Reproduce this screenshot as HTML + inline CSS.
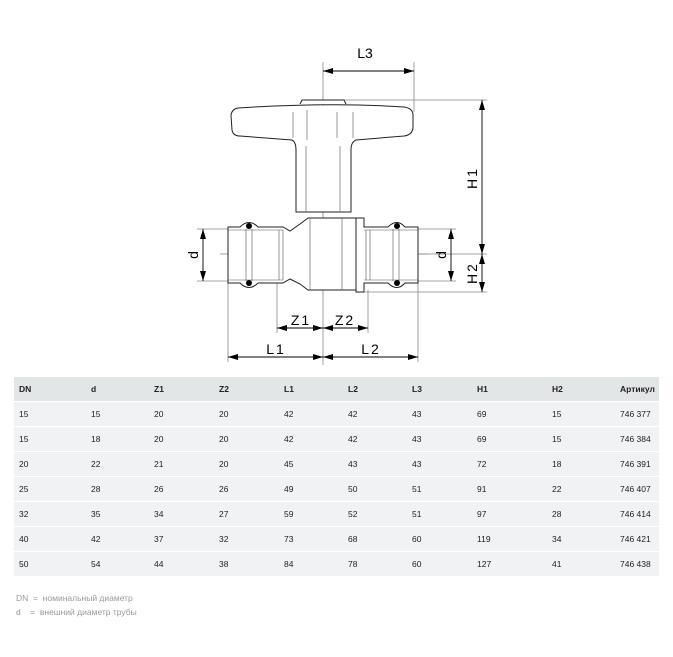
<!DOCTYPE html>
<html><head><meta charset="utf-8"><style>
body{margin:0;background:#fff;width:673px;height:657px;overflow:hidden;font-family:"Liberation Sans",Arial,sans-serif}
svg{position:absolute;left:0;top:0}
table{position:absolute;left:14px;top:377px;width:645px;border-collapse:collapse;font-size:8.5px;color:#222}
td{height:24px;padding:0 0 0 5px;border-bottom:1px solid #fff;background:#f0f2f3;vertical-align:middle}
tr.h td{background:#e3e6e7;font-weight:bold;height:24px}
.foot{position:absolute;left:16px;font-size:8.5px;color:#999}
</style></head><body>
<svg width="673" height="370" viewBox="0 0 673 370">
<defs><marker id="a" viewBox="0 0 10 6" refX="10" refY="3" markerWidth="10" markerHeight="6" orient="auto-start-reverse" markerUnits="userSpaceOnUse"><path d="M0,0L10,3L0,6z" fill="#000"/></marker></defs>
<g stroke="#888" stroke-width="0.8" fill="none">
<line x1="323" y1="62" x2="323" y2="365"/>
<line x1="414" y1="62" x2="414" y2="112"/>
<line x1="335" y1="100" x2="487" y2="100"/>
<line x1="418" y1="254" x2="487" y2="254"/>
<line x1="365" y1="292" x2="487" y2="292"/>
<line x1="197" y1="229" x2="240" y2="229"/>
<line x1="197" y1="281" x2="240" y2="281"/>
<line x1="405" y1="229" x2="456" y2="229"/>
<line x1="405" y1="281" x2="456" y2="281"/>
<line x1="228" y1="283" x2="228" y2="362"/>
<line x1="418" y1="283" x2="418" y2="362"/>
<line x1="277" y1="280" x2="277" y2="333"/>
<line x1="368" y1="290" x2="368" y2="333"/>
<line x1="220" y1="254" x2="430" y2="254" stroke-dasharray="10,3,2,3"/>
</g>
<g stroke="#000" stroke-width="0.9">
<line x1="323" y1="71" x2="414" y2="71" marker-start="url(#a)" marker-end="url(#a)"/>
<line x1="482" y1="100" x2="482" y2="254" marker-start="url(#a)" marker-end="url(#a)"/>
<line x1="482" y1="254" x2="482" y2="292" marker-start="url(#a)" marker-end="url(#a)"/>
<line x1="203" y1="229" x2="203" y2="281" marker-start="url(#a)" marker-end="url(#a)"/>
<line x1="451" y1="229" x2="451" y2="281" marker-start="url(#a)" marker-end="url(#a)"/>
<line x1="277" y1="328" x2="323" y2="328" marker-start="url(#a)" marker-end="url(#a)"/>
<line x1="323" y1="328" x2="368" y2="328" marker-start="url(#a)" marker-end="url(#a)"/>
<line x1="228" y1="357" x2="323" y2="357" marker-start="url(#a)" marker-end="url(#a)"/>
<line x1="323" y1="357" x2="418" y2="357" marker-start="url(#a)" marker-end="url(#a)"/>
</g>
<g stroke="#222" stroke-width="1" fill="#fff">
<path d="M300,104 L302,100 L344,100 L346,104"/>
<path d="M238,108 Q232,109 231,115 L232,130 Q233,136 240,136 L292,140 Q296,142 296,150 L296,212 L351,212 L351,150 Q351,142 356,140 L404,136 Q412,135 413,128 L413,114 Q412,108 404,107 Q330,102 238,108 Z"/>
<path d="M228,227 L240,227 Q249,218 258,227 L283,227 L290,231 L300,224 L308,218 L356,218 L356,290 L308,290 L300,284 L290,279 L283,283 L258,283 Q249,292 240,283 L228,283 Z"/>
<path d="M356,218 L364,218 L364,227 L388,227 Q397,218 405,227 L418,227 L418,283 L405,283 Q397,292 388,283 L364,283 L364,292 L356,292 Z"/>
</g>
<g stroke="#555" stroke-width="0.6" fill="none">
<line x1="228" y1="230" x2="283" y2="230"/><line x1="228" y1="280" x2="283" y2="280"/>
<line x1="364" y1="230" x2="418" y2="230"/><line x1="364" y1="280" x2="418" y2="280"/>
<line x1="246" y1="229" x2="246" y2="281"/><line x1="252" y1="229" x2="252" y2="281"/>
<line x1="393" y1="229" x2="393" y2="281"/><line x1="399" y1="229" x2="399" y2="281"/>
<line x1="279" y1="230" x2="279" y2="280"/><line x1="283" y1="230" x2="283" y2="280"/>
<line x1="366" y1="230" x2="366" y2="280"/><line x1="370" y1="230" x2="370" y2="280"/>
<line x1="310" y1="218" x2="310" y2="290"/><line x1="342" y1="218" x2="342" y2="290"/>
<line x1="306" y1="146" x2="306" y2="212"/><line x1="340" y1="146" x2="340" y2="212"/>
<line x1="293" y1="112" x2="293" y2="138"/><line x1="337" y1="112" x2="337" y2="138"/>
<line x1="307" y1="110" x2="307" y2="140"/><line x1="353" y1="112" x2="353" y2="138"/>
</g>
<g fill="#000"><circle cx="249" cy="226" r="3"/><circle cx="249" cy="283" r="3"/><circle cx="397" cy="226" r="3"/><circle cx="397" cy="283" r="3"/></g>
<g font-family="Liberation Sans,Arial,sans-serif" font-size="14" fill="#000" text-anchor="middle">
<text x="365" y="58">L3</text>
<text x="301" y="325" letter-spacing="2">Z1</text>
<text x="345" y="325" letter-spacing="2">Z2</text>
<text x="276" y="354" letter-spacing="2">L1</text>
<text x="371" y="354" letter-spacing="2">L2</text>
<text transform="translate(198,255) rotate(-90)">d</text>
<text transform="translate(446,255) rotate(-90)">d</text>
<text transform="translate(477,178) rotate(-90)" letter-spacing="2">H1</text>
<text transform="translate(477,273) rotate(-90)" letter-spacing="2">H2</text>
</g>
</svg>
<table>
<colgroup><col style="width:72px"><col style="width:63px"><col style="width:65px"><col style="width:65px"><col style="width:64px"><col style="width:64px"><col style="width:65px"><col style="width:75px"><col style="width:68px"><col></colgroup>
<tr class="h"><td>DN</td><td>d</td><td>Z1</td><td>Z2</td><td>L1</td><td>L2</td><td>L3</td><td>H1</td><td>H2</td><td>Артикул</td></tr>
<tr><td>15</td><td>15</td><td>20</td><td>20</td><td>42</td><td>42</td><td>43</td><td>69</td><td>15</td><td>746 377</td></tr>
<tr><td>15</td><td>18</td><td>20</td><td>20</td><td>42</td><td>42</td><td>43</td><td>69</td><td>15</td><td>746 384</td></tr>
<tr><td>20</td><td>22</td><td>21</td><td>20</td><td>45</td><td>43</td><td>43</td><td>72</td><td>18</td><td>746 391</td></tr>
<tr><td>25</td><td>28</td><td>26</td><td>26</td><td>49</td><td>50</td><td>51</td><td>91</td><td>22</td><td>746 407</td></tr>
<tr><td>32</td><td>35</td><td>34</td><td>27</td><td>59</td><td>52</td><td>51</td><td>97</td><td>28</td><td>746 414</td></tr>
<tr><td>40</td><td>42</td><td>37</td><td>32</td><td>73</td><td>68</td><td>60</td><td>119</td><td>34</td><td>746 421</td></tr>
<tr><td>50</td><td>54</td><td>44</td><td>38</td><td>84</td><td>78</td><td>60</td><td>127</td><td>41</td><td>746 438</td></tr>
</table>
<div class="foot" style="top:593px">DN &nbsp;= &nbsp;номинальный диаметр</div>
<div class="foot" style="top:607px">d &nbsp;&nbsp;&nbsp;= &nbsp;внешний диаметр трубы</div>
</body></html>
